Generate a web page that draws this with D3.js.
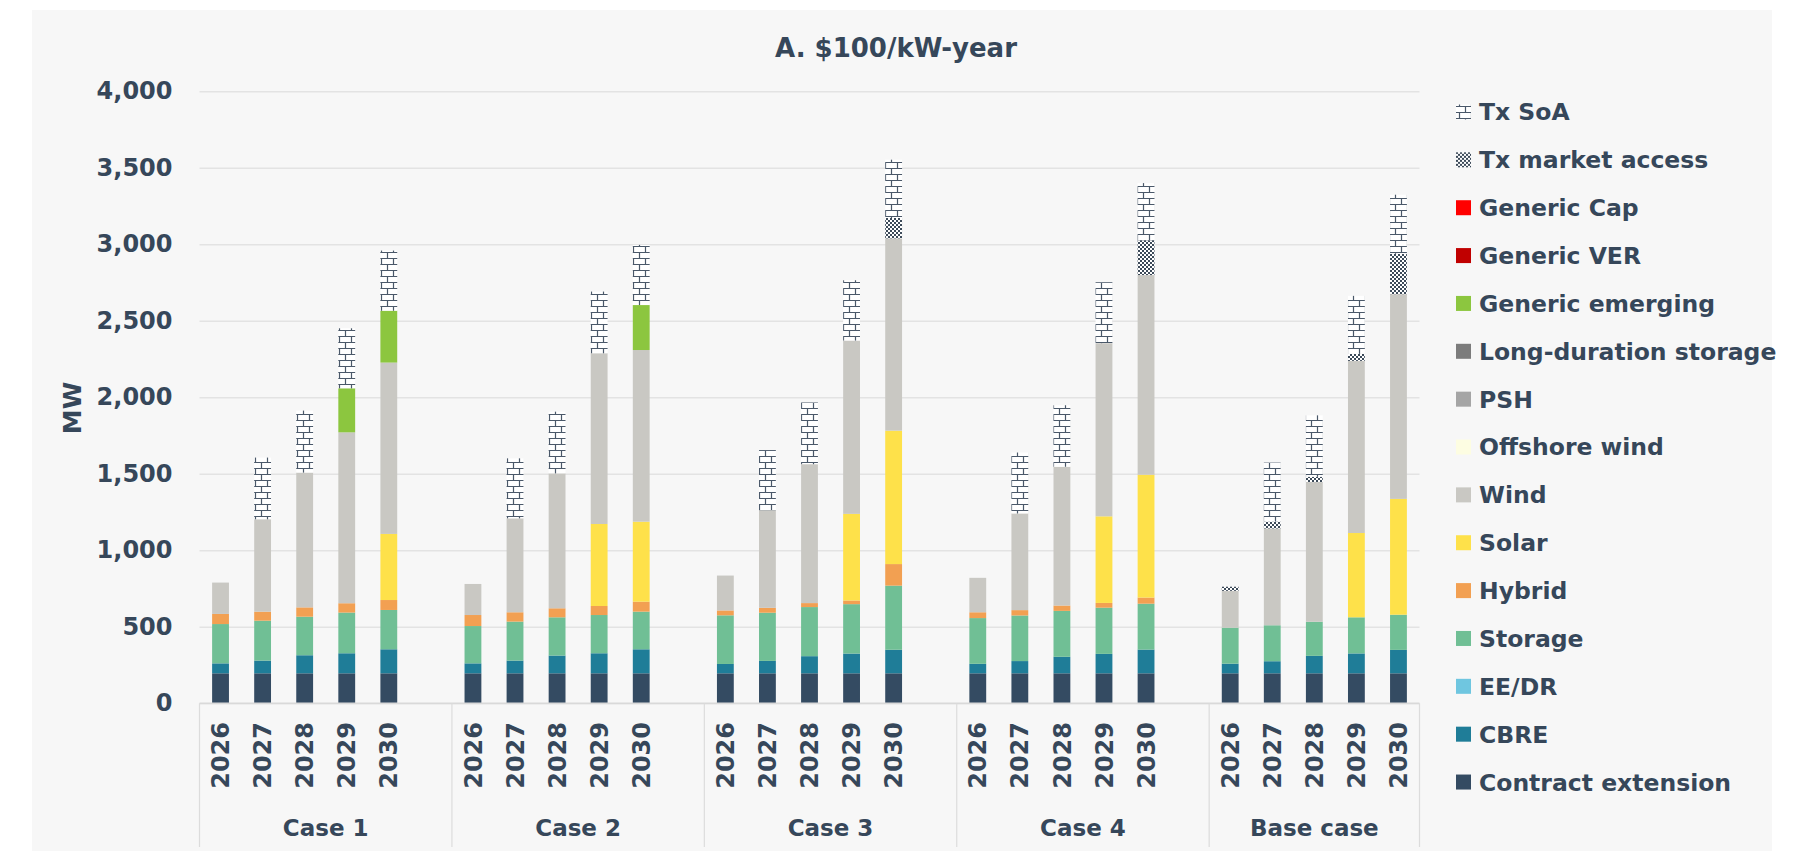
<!DOCTYPE html>
<html>
<head>
<meta charset="utf-8">
<script src="https://cdn.jsdelivr.net/npm/d3@7/dist/d3.min.js"></script>
<style>
  html, body { margin: 0; padding: 0; background: #ffffff; }
  svg { display: block; }
  text { font-family: "DejaVu Sans", sans-serif; font-weight: bold; fill: #36475a; }
</style>
</head>
<body>
<svg id="chart" width="1801" height="851"></svg>
<script>
// ---------------- DATA ----------------
const title = "A. $100/kW-year";
const yLabel = "MW";
const cases = ["Case 1", "Case 2", "Case 3", "Case 4", "Base case"];
const years = ["2026", "2027", "2028", "2029", "2030"];
const yTicks = [0, 500, 1000, 1500, 2000, 2500, 3000, 3500, 4000];

// values per series: Case 1 (2026-2030), Case 2, Case 3, Case 4, Base case
const contractExtension = [196,196,196,196,196, 196,196,196,196,196, 196,196,196,196,196, 196,196,196,196,196, 196,196,196,196,196];
const cbre              = [65,83,118,131,157,   65,83,116,131,157,   61,81,112,129,154,   62,80,108,127,155,   63,79,114,130,153];
const eeDr              = [0,0,0,0,0, 0,0,0,0,0, 0,0,0,0,0, 0,0,0,0,0, 0,0,0,0,0];
const storage           = [257,261,252,266,257, 244,255,250,250,246, 318,315,321,323,419, 299,298,300,302,300, 235,235,223,236,230];
const hybrid            = [66,59,61,61,65,      72,61,59,59,65,      32,32,26,24,141,     38,35,35,31,40,      0,0,0,0,0];
const solar             = [0,0,0,0,432,         0,0,0,536,523,       0,0,0,566,872,       0,0,0,566,803,       0,0,0,551,757];
const wind              = [205,604,881,1117,1120, 203,614,882,1116,1122, 228,638,908,1133,1257, 225,632,907,1132,1305, 241,633,913,1125,1338];
const offshoreWind      = [0,0,0,0,0, 0,0,0,0,0, 0,0,0,0,0, 0,0,0,0,0, 0,0,0,0,0];
const psh               = [0,0,0,0,0, 0,0,0,0,0, 0,0,0,0,0, 0,0,0,0,0, 0,0,0,0,0];
const longDuration      = [0,0,0,0,0, 0,0,0,0,0, 0,0,0,0,0, 0,0,0,0,0, 0,0,0,0,0];
const genericEmerging   = [0,0,0,288,339, 0,0,0,0,294, 0,0,0,0,0, 0,0,0,0,0, 0,0,0,0,0];
const genericVER        = [0,0,0,0,0, 0,0,0,0,0, 0,0,0,0,0, 0,0,0,0,0, 0,0,0,0,0];
const genericCap        = [0,0,0,0,0, 0,0,0,0,0, 0,0,0,0,0, 0,0,0,0,0, 0,0,0,0,0];
const txMarketAccess    = [0,0,0,0,0, 0,0,0,0,0, 0,0,0,0,133, 0,0,0,0,227, 27,45,35,46,264];
const txSoA             = [0,403,405,392,393, 0,392,403,403,393, 0,393,403,394,381, 0,398,402,398,374, 0,385,401,379,386];

// series names (bottom -> top of stack)
const seriesNames = ["Contract extension","CBRE","EE/DR","Storage","Hybrid","Solar","Wind","Offshore wind","PSH","Long-duration storage","Generic emerging","Generic VER","Generic Cap","Tx market access","Tx SoA"];
const seriesValues = [contractExtension, cbre, eeDr, storage, hybrid, solar, wind, offshoreWind, psh, longDuration, genericEmerging, genericVER, genericCap, txMarketAccess, txSoA];
const seriesColors = ["#344b62","#1f7d98","#6fc6e0","#70bf95","#f2a052","#fee14a","#c9c8c3","#fdfde2","#a5a5a5","#7c7c7c","#8cc63f","#c00000","#ff0000","url(#patMA)","url(#patSoA)"];

// ---------------- BUILD ----------------
const svg = d3.select("#chart");
const W = 1801, H = 851;
const textColor = "#36475a";

// patterns
const defs = svg.append("defs");
const pMA = defs.append("pattern").attr("id","patMA").attr("patternUnits","userSpaceOnUse").attr("width",4).attr("height",4);
pMA.append("rect").attr("width",4).attr("height",4).attr("fill","#ffffff");
pMA.append("rect").attr("width",2).attr("height",2).attr("fill","#3c4a59");
pMA.append("rect").attr("x",2).attr("y",2).attr("width",2).attr("height",2).attr("fill","#3c4a59");
const pSoA = defs.append("pattern").attr("id","patSoA").attr("patternUnits","userSpaceOnUse").attr("width",12).attr("height",12);
pSoA.append("rect").attr("width",12).attr("height",12).attr("fill","#ffffff");
pSoA.append("path").attr("d","M0,0.5H12M0,6.5H12M3.5,0.5V6.5M9.5,6.5V12.5").attr("stroke","#4a5869").attr("stroke-width",1.2).attr("fill","none");

// panel
svg.append("rect").attr("x",32).attr("y",10).attr("width",1740).attr("height",H-10).attr("fill","#f7f7f7");

// scales
const slotKeys = [];
cases.forEach((c, ci) => {
  years.forEach(yr => slotKeys.push(c + "|" + yr));
  if (ci < cases.length - 1) slotKeys.push(c + "|gap");
});
const x = d3.scaleBand().domain(slotKeys).range([199.5, 1419.5]).padding(0);
const y = d3.scaleLinear().domain([0, 4000]).range([703.3, 91.3]);
const barW = x.bandwidth() * 0.4;

// grid + y axis
const yAxis = d3.axisLeft(y).tickValues(yTicks).tickFormat(d3.format(",")).tickSize(-(1419.5 - 199.5)).tickPadding(27);
const gy = svg.append("g").attr("transform","translate(199.5,0)").call(yAxis);
gy.select(".domain").remove();
gy.selectAll(".tick line").attr("stroke","#e3e3e3").attr("stroke-width",1.5);
gy.selectAll(".tick text").style("font-family","'DejaVu Sans', sans-serif").style("font-weight","bold").style("font-size","24px").attr("fill",textColor);

// stacked data
const rows = [];
cases.forEach((c, ci) => years.forEach((yr, yi) => {
  const r = { key: c + "|" + yr };
  seriesNames.forEach((s, si) => r[s] = seriesValues[si][ci * years.length + yi]);
  rows.push(r);
}));
const stacked = d3.stack().keys(seriesNames)(rows);

const gBars = svg.append("g");
stacked.forEach((layer, li) => {
  gBars.append("g").attr("fill", seriesColors[li])
    .selectAll("rect").data(layer.filter(d => d[1] - d[0] > 0)).join("rect")
    .attr("x", d => x(d.data.key) + (x.bandwidth() - barW) / 2)
    .attr("width", barW)
    .attr("y", d => y(d[1]))
    .attr("height", d => y(d[0]) - y(d[1]));
});

// x axis: baseline + group separators
svg.append("line").attr("x1",199.5).attr("x2",1419.5).attr("y1",y(0)).attr("y2",y(0)).attr("stroke","#d9d9d9").attr("stroke-width",1.5);
const groupEdges = cases.map(c => x(c + "|2026"));
groupEdges.push(x.range()[1]);
svg.append("g").selectAll("line").data(groupEdges).join("line")
  .attr("x1", d => d).attr("x2", d => d).attr("y1", y(0)).attr("y2", 847)
  .attr("stroke","#dcdcdc").attr("stroke-width",1.2);

// year labels
svg.append("g").selectAll("text").data(rows).join("text")
  .attr("transform", d => `translate(${x(d.key) + x.bandwidth() / 2},722) rotate(-90)`)
  .attr("text-anchor","end").attr("dy","0.36em")
  .style("font-size","24px")
  .text(d => d.key.split("|")[1]);

// case labels
svg.append("g").selectAll("text").data(cases).join("text")
  .attr("x", (c, i) => (groupEdges[i] + groupEdges[i + 1]) / 2)
  .attr("y", 828).attr("dy","0.36em").attr("text-anchor","middle")
  .style("font-size","23px")
  .text(c => c);

// y label
svg.append("text").attr("transform","translate(72,408) rotate(-90)").attr("text-anchor","middle").attr("dy","0.36em")
  .style("font-size","25px").text(yLabel);

// title
svg.append("text").attr("x",896).attr("y",48).attr("dy","0.36em").attr("text-anchor","middle")
  .style("font-size","26px").text(title);

// legend (top = last series)
const legendItems = seriesNames.map((s, i) => ({ name: s, color: seriesColors[i] })).reverse();
const lg = svg.append("g").selectAll("g").data(legendItems).join("g")
  .attr("transform", (d, i) => `translate(1456,${112 + i * 47.86})`);
lg.append("rect").attr("x",0).attr("y",-7.5).attr("width",15).attr("height",15).attr("fill", d => d.color);
lg.append("text").attr("x",23).attr("dy","0.36em").style("font-size","23.5px").text(d => d.name);
</script>
</body>
</html>
